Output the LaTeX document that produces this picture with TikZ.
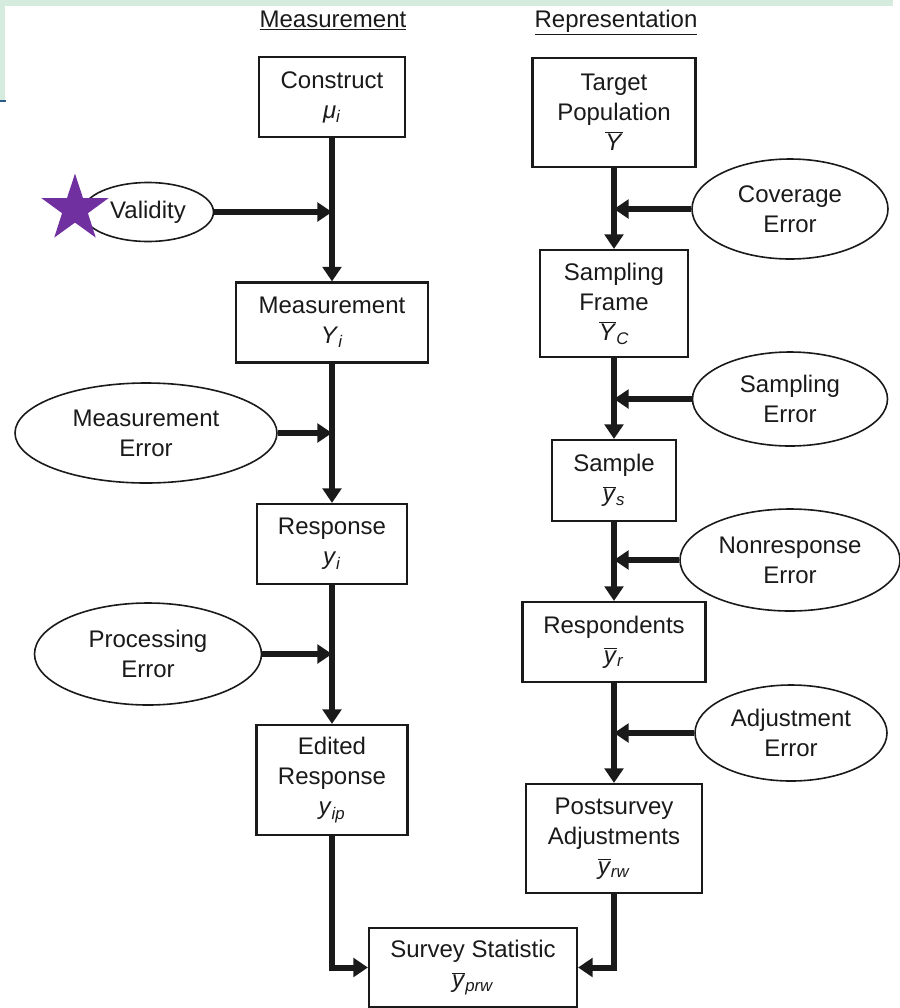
\documentclass[tikz,border=0pt]{standalone}
\usepackage{fontspec}
\setmainfont{Liberation Sans}
\usetikzlibrary{shapes.geometric,arrows.meta}
\definecolor{mint}{HTML}{D5EBDE}
\definecolor{frameblue}{HTML}{2E5A87}
\definecolor{starpurple}{HTML}{7030A0}
\definecolor{ink}{HTML}{1A1A1A}
\newcommand\ovl[1]{$\overline{\mbox{\textit{#1}}}$}
\newcommand\sbi[1]{\textsubscript{\textit{#1}}}
\tikzset{
  txt/.style={font=\fontsize{18}{22.5}\selectfont, text=ink},
  box/.style={txt, draw=ink, line width=1.6pt, align=center, inner sep=0pt},
  oval/.style={txt, draw=ink, ellipse, line width=1.2pt, align=center, inner sep=0pt},
  flow/.style={draw=ink, line width=4.5pt, line join=miter, -{Triangle[length=11pt,width=14pt]}},
  hdr/.style={txt, inner sep=0pt, anchor=base}
}
\begin{document}
\begin{tikzpicture}[x=0.75pt,y=-0.75pt]
\useasboundingbox (0,0) rectangle (900,1008);
% slide frame
\fill[mint] (0,0) rectangle (893,6);
\fill[mint] (0,0) rectangle (5,100);
\draw[frameblue, line width=1.2pt] (0,101) -- (6,101);

% headers
\node[hdr] (hm) at (333,27) {\underline{Measurement}};
\node[hdr] (hr) at (616,27) {\underline{Representation}};

% left column boxes
\node[box, minimum width=109.5pt, minimum height=60pt] (construct) at (332,97) {Construct\\\textit{μ}\sbi{i}};
\node[box, minimum width=144pt, minimum height=60pt] (meas) at (332,322.5) {Measurement\\\textit{Y}\sbi{i}};
\node[box, minimum width=112.5pt, minimum height=60pt] (resp) at (332,544) {Response\\\textit{y}\sbi{i}};
\node[box, minimum width=113.25pt, minimum height=82.5pt] (edited) at (332,780) {Edited\\Response\\\textit{y}\sbi{ip}};

% right column boxes
\node[box, minimum width=122.25pt, minimum height=81.75pt] (target) at (614,112.5) {Target\\Population\\\ovl{Y}};
\node[box, minimum width=111pt, minimum height=80.25pt] (frame) at (614,303.5) {Sampling\\Frame\\\ovl{Y}\sbi{C}};
\node[box, minimum width=93pt, minimum height=60.75pt] (sample) at (614,480.5) {Sample\\\ovl{y}\sbi{s}};
\node[box, minimum width=137.25pt, minimum height=60pt] (respond) at (614,642) {Respondents\\\ovl{y}\sbi{r}};
\node[box, minimum width=132pt, minimum height=81.75pt] (post) at (614,838.5) {Postsurvey\\Adjustments\\\ovl{y}\sbi{rw}};

% bottom
\node[box, minimum width=156pt, minimum height=59.25pt] (stat) at (473,967.5) {Survey Statistic\\\ovl{y}\sbi{prw}};

% error ellipses
\node[oval, minimum width=98.25pt, minimum height=44.25pt] (validity) at (148,212) {Validity};
\node[oval, minimum width=196.5pt, minimum height=75pt] (merr) at (146,433) {Measurement\\Error};
\node[oval, minimum width=170.25pt, minimum height=76.5pt] (perr) at (148,654) {Processing\\Error};
\node[oval, minimum width=147pt, minimum height=75pt] (cov) at (790,209) {Coverage\\Error};
\node[oval, minimum width=146.25pt, minimum height=70.5pt] (samp) at (790,399) {Sampling\\Error};
\node[oval, minimum width=165pt, minimum height=76.5pt] (nonr) at (790,560) {Nonresponse\\Error};
\node[oval, minimum width=144pt, minimum height=72pt] (adj) at (791,733) {Adjustment\\Error};

% star
\node[star, star points=5, star point ratio=2.6, fill=starpurple, inner sep=0pt, minimum size=53pt] (star) at (75,209) {};

% vertical flows
\draw[flow] (construct.south) -- (meas.north);
\draw[flow] (meas.south) -- (resp.north);
\draw[flow] (resp.south) -- (edited.north);
\draw[flow] (edited.south) |- (stat.west);
\draw[flow] (target.south) -- (frame.north);
\draw[flow] (frame.south) -- (sample.north);
\draw[flow] (sample.south) -- (respond.north);
\draw[flow] (respond.south) -- (post.north);
\draw[flow] (post.south) |- (stat.east);

% error inputs
\draw[flow] (validity.east) -- (validity.east -| construct.south);
\draw[flow] (merr.east) -- (merr.east -| meas.south);
\draw[flow] (perr.east) -- (perr.east -| resp.south);
\draw[flow] (cov.west) -- (cov.west -| target.south);
\draw[flow] (samp.west) -- (samp.west -| frame.south);
\draw[flow] (nonr.west) -- (nonr.west -| sample.south);
\draw[flow] (adj.west) -- (adj.west -| respond.south);
\end{tikzpicture}
\end{document}
